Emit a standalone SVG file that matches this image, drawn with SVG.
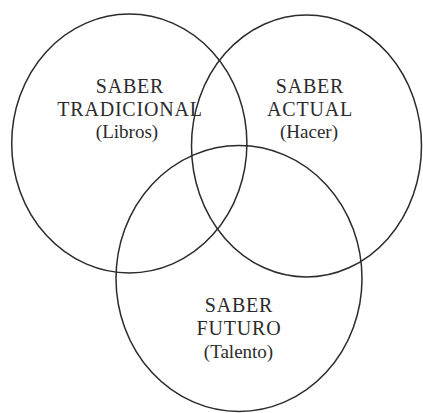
<svg xmlns="http://www.w3.org/2000/svg" width="423" height="413" viewBox="0 0 423 413">
<style>
.c{fill:none;stroke:#2b2b2b;stroke-width:1.5}
.t{font-family:"Liberation Serif","Times New Roman",serif;font-size:19px;fill:#2b2b2b;text-anchor:middle}
.u{font-size:20px;letter-spacing:0.8px}
</style>
<rect width="423" height="413" fill="#fff"/>
<g id="tradicional">
<ellipse class="c" cx="129.3" cy="143.5" rx="117.6" ry="129.5"/>
</g>
<g id="actual">
<ellipse class="c" cx="306.5" cy="146" rx="115" ry="131"/>
</g>
<g id="futuro">
<ellipse class="c" cx="239" cy="278.5" rx="123" ry="133"/>
</g>
<g id="labels">
<text class="t u" x="130" y="93">SABER</text>
<text class="t u" x="130" y="116">TRADICIONAL</text>
<text class="t" x="127" y="138">(Libros)</text>
<text class="t u" x="310" y="93">SABER</text>
<text class="t u" x="310" y="116">ACTUAL</text>
<text class="t" x="309" y="138">(Hacer)</text>
<text class="t u" x="239" y="312">SABER</text>
<text class="t u" x="239" y="335">FUTURO</text>
<text class="t" x="238.5" y="358">(Talento)</text>
</g>
</svg>
